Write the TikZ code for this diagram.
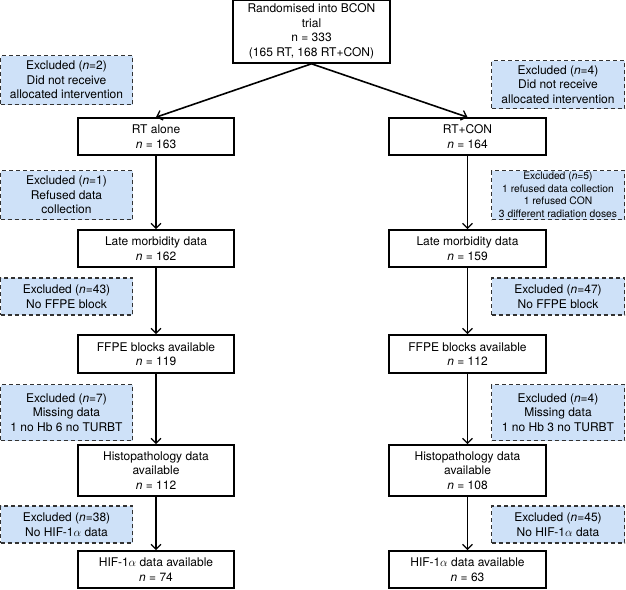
\documentclass[tikz,border=0pt]{standalone}
\usepackage{fontspec}
\setmainfont{TeX Gyre Heros}
\usetikzlibrary{arrows.meta}
\definecolor{exfill}{RGB}{206,225,248}
\definecolor{exline}{RGB}{50,50,50}
\tikzset{
  mainbox/.style={draw=black, line width=1.6pt, fill=white, align=center, inner sep=0pt,
    font=\fontsize{12}{14.5}\selectfont},
  exbox/.style={draw=exline, line width=1.3pt, dash pattern=on 4pt off 3pt, fill=exfill,
    align=center, inner sep=0pt, font=\fontsize{12}{14.5}\selectfont},
  flow/.style={line width=1.6pt, -{Straight Barb[length=5pt,width=10pt,line width=1.3pt]}},
}
\begin{document}
\begin{tikzpicture}[x=1pt,y=-1pt]
\useasboundingbox (0,0) rectangle (626,589);
% top
\node[mainbox, minimum width=157, minimum height=63] (top) at (311.5,31.5)
  {Randomised into BCON\\trial\\n = 333\\(165 RT, 168 RT+CON)};
% left column
\node[mainbox, minimum width=156, minimum height=37] (rt) at (156,136.5) {RT alone\\\textit{n} = 163};
\node[mainbox, minimum width=156, minimum height=37] (lateL) at (156,248.5) {Late morbidity data\\\textit{n} = 162};
\node[mainbox, minimum width=156, minimum height=38] (ffpeL) at (156,354) {FFPE blocks available\\\textit{n} = 119};
\node[mainbox, minimum width=156, minimum height=51] (histL) at (156,470.5) {Histopathology data\\available\\\textit{n} = 112};
\node[mainbox, minimum width=156, minimum height=37] (hifL) at (156,569.5) {HIF-1$\alpha$ data available\\\textit{n} = 74};
% right column
\node[mainbox, minimum width=157, minimum height=37] (rtc) at (467.5,136.5) {RT+CON\\\textit{n} = 164};
\node[mainbox, minimum width=157, minimum height=37] (lateR) at (467.5,248.5) {Late morbidity data\\\textit{n} = 159};
\node[mainbox, minimum width=157, minimum height=38] (ffpeR) at (467.5,354) {FFPE blocks available\\\textit{n} = 112};
\node[mainbox, minimum width=157, minimum height=51] (histR) at (467.5,470.5) {Histopathology data\\available\\\textit{n} = 108};
\node[mainbox, minimum width=157, minimum height=37] (hifR) at (467.5,569.5) {HIF-1$\alpha$ data available\\\textit{n} = 63};
% left exclusions
\node[exbox, minimum width=132, minimum height=49] (exL1) at (66.5,80) {Excluded (\textit{n}=2)\\Did not receive\\allocated intervention};
\node[exbox, minimum width=132, minimum height=49] (exL2) at (66.5,195) {Excluded (\textit{n}=1)\\Refused data\\collection};
\node[exbox, minimum width=132, minimum height=37] (exL3) at (66.5,296.5) {Excluded (\textit{n}=43)\\No FFPE block};
\node[exbox, minimum width=132, minimum height=56] (exL4) at (66.5,412.5) {Excluded (\textit{n}=7)\\Missing data\\1 no Hb 6 no TURBT};
\node[exbox, minimum width=132, minimum height=37] (exL5) at (66.5,524.5) {Excluded (\textit{n}=38)\\No HIF-1$\alpha$ data};
% right exclusions
\node[exbox, minimum width=133, minimum height=48] (exR1) at (558,84.5) {Excluded (\textit{n}=4)\\Did not receive\\allocated intervention};
\node[exbox, minimum width=133, minimum height=49, font=\fontsize{10.3}{12.6}\selectfont] (exR2) at (558,195) {Excluded (\textit{n}=5)\\1 refused data collection\\1 refused CON\\3 different radiation doses};
\node[exbox, minimum width=133, minimum height=37] (exR3) at (558,296.5) {Excluded (\textit{n}=47)\\No FFPE block};
\node[exbox, minimum width=133, minimum height=56] (exR4) at (558,412.5) {Excluded (\textit{n}=4)\\Missing data\\1 no Hb 3 no TURBT};
\node[exbox, minimum width=133, minimum height=37] (exR5) at (558,524.5) {Excluded (\textit{n}=45)\\No HIF-1$\alpha$ data};
% connectors
\draw[flow] (top.south) -- (rt.north);
\draw[flow] (top.south) -- (rtc.north);
\draw[flow] (rt.south) -- (lateL.north);
\draw[flow] (lateL.south) -- (ffpeL.north);
\draw[flow] (ffpeL.south) -- (histL.north);
\draw[flow] (histL.south) -- (hifL.north);
\draw[flow] (rtc.south) -- (lateR.north);
\draw[flow] (lateR.south) -- (ffpeR.north);
\draw[flow] (ffpeR.south) -- (histR.north);
\draw[flow] (histR.south) -- (hifR.north);
\end{tikzpicture}
\end{document}
